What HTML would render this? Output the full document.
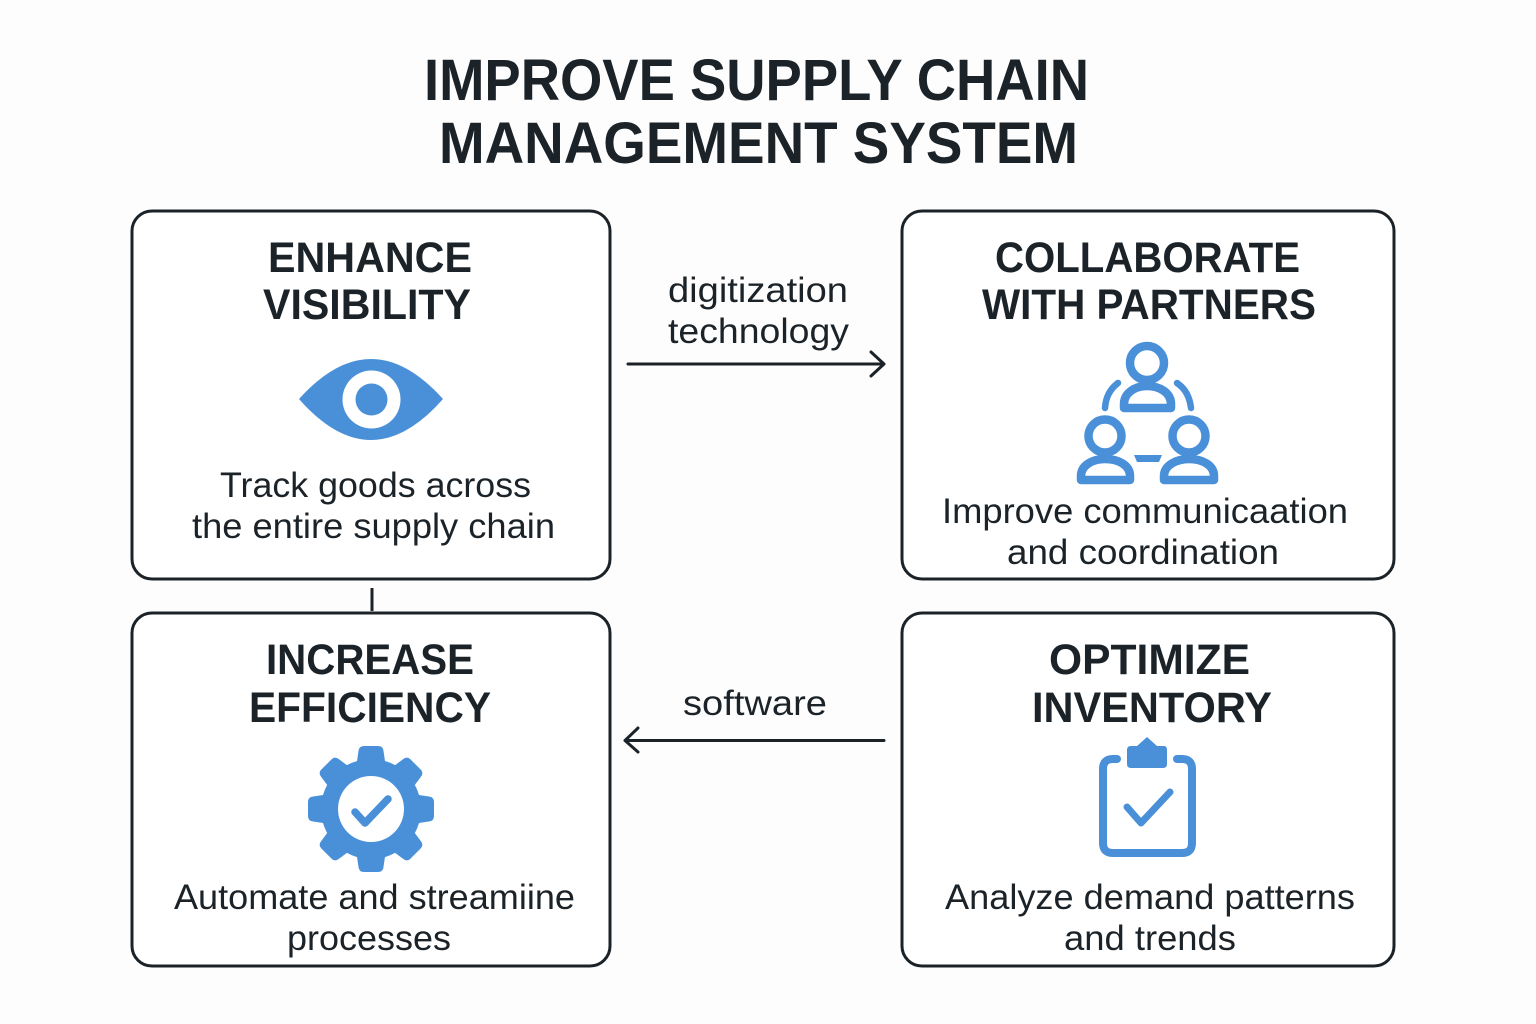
<!DOCTYPE html>
<html><head><meta charset="utf-8"><style>
html,body{margin:0;padding:0;background:#fdfdfd}
svg{display:block}
text{font-family:"Liberation Sans",sans-serif;fill:#1b2329}
.t{font-size:58px;font-weight:bold}
.h{font-size:43px;font-weight:bold}
.b{font-size:35px}
.box{fill:#fff;stroke:#1b2329;stroke-width:3}
.ln{fill:none;stroke:#1b2329;stroke-width:3;stroke-linecap:round;stroke-linejoin:round}
</style></head><body>
<svg width="1536" height="1024" viewBox="0 0 1536 1024" xmlns="http://www.w3.org/2000/svg">
<defs>
<path id="tooth" d="M356 768L358.500 751Q359 746 364 746H378Q383 746 383.500 751L386 768Z" fill="#4a90d9"/>
</defs>
<rect width="1536" height="1024" fill="#fdfdfd"/>
<text class="t" x="424" y="100" textLength="665" lengthAdjust="spacingAndGlyphs">IMPROVE SUPPLY CHAIN</text>
<text class="t" x="439" y="163" textLength="639" lengthAdjust="spacingAndGlyphs">MANAGEMENT SYSTEM</text>

<rect class="box" x="132" y="211" width="478" height="368" rx="20"/>
<rect class="box" x="902" y="211" width="492" height="368" rx="20"/>
<rect class="box" x="132" y="613" width="478" height="353" rx="20"/>
<rect class="box" x="902" y="613" width="492" height="353" rx="20"/>

<text class="h" x="268" y="272" textLength="204" lengthAdjust="spacingAndGlyphs">ENHANCE</text>
<text class="h" x="263" y="319" textLength="208" lengthAdjust="spacingAndGlyphs">VISIBILITY</text>
<text class="h" x="995" y="272" textLength="305" lengthAdjust="spacingAndGlyphs">COLLABORATE</text>
<text class="h" x="982" y="319" textLength="334" lengthAdjust="spacingAndGlyphs">WITH PARTNERS</text>
<text class="h" x="266" y="674" textLength="208" lengthAdjust="spacingAndGlyphs">INCREASE</text>
<text class="h" x="249" y="722" textLength="242" lengthAdjust="spacingAndGlyphs">EFFICIENCY</text>
<text class="h" x="1049" y="674" textLength="201" lengthAdjust="spacingAndGlyphs">OPTIMIZE</text>
<text class="h" x="1032" y="722" textLength="240" lengthAdjust="spacingAndGlyphs">INVENTORY</text>

<text class="b" x="220" y="497" textLength="311" lengthAdjust="spacingAndGlyphs">Track goods across</text>
<text class="b" x="192" y="538" textLength="363" lengthAdjust="spacingAndGlyphs">the entire supply chain</text>
<text class="b" x="942" y="523" textLength="406" lengthAdjust="spacingAndGlyphs">Improve communicaation</text>
<text class="b" x="1007" y="564" textLength="272" lengthAdjust="spacingAndGlyphs">and coordination</text>
<text class="b" x="174" y="909" textLength="401" lengthAdjust="spacingAndGlyphs">Automate and streamiine</text>
<text class="b" x="287" y="950" textLength="164" lengthAdjust="spacingAndGlyphs">processes</text>
<text class="b" x="945" y="909" textLength="410" lengthAdjust="spacingAndGlyphs">Analyze demand patterns</text>
<text class="b" x="1064" y="950" textLength="172" lengthAdjust="spacingAndGlyphs">and trends</text>
<text class="b" x="668" y="302" textLength="180" lengthAdjust="spacingAndGlyphs">digitization</text>
<text class="b" x="668" y="343" textLength="181" lengthAdjust="spacingAndGlyphs">technology</text>
<text class="b" x="683" y="715" textLength="144" lengthAdjust="spacingAndGlyphs">software</text>

<path class="ln" d="M628 364H884M871 352L884 364L871 376"/>
<path class="ln" d="M884 740.500H625M638 728L625 740.500L638 752"/>
<path class="ln" style="stroke-linecap:butt" d="M372 588V611"/>

<!-- eye -->
<path d="M299 399Q335 359 371 359Q407 359 443 399Q407 440 371 440Q335 440 299 399Z" fill="#4a90d9"/>
<circle cx="371.500" cy="399.500" r="29" fill="#fff"/>
<circle cx="371.500" cy="399.500" r="16" fill="#4a90d9"/>

<!-- people -->
<g fill="none" stroke="#4a90d9" stroke-width="8.500" stroke-linejoin="round">
<circle cx="1147" cy="363" r="17"/>
<path d="M1124 408V404C1124 393 1135 386 1147 386C1160 386 1171 393 1171 404V408Z"/>
<circle cx="1105" cy="436" r="16.500"/>
<path d="M1081 480V476C1081 465 1093 459 1105 459C1118 459 1130 465 1130 476V480Z"/>
<circle cx="1189" cy="436" r="16.500"/>
<path d="M1164 480V476C1164 465 1177 459 1189 459C1202 459 1214 465 1214 476V480Z"/>
<path d="M1118 383Q1106 392 1105 408M1177 383Q1189 391 1191 408" stroke-width="6.500" stroke-linecap="round"/>
</g>
<path d="M1134 455H1162L1159 462H1137Z" fill="#4a90d9"/>

<!-- gear -->
<circle cx="371" cy="809" r="50" fill="#4a90d9"/>
<use href="#tooth"/>
<use href="#tooth" transform="rotate(45 371 809)"/>
<use href="#tooth" transform="rotate(90 371 809)"/>
<use href="#tooth" transform="rotate(135 371 809)"/>
<use href="#tooth" transform="rotate(180 371 809)"/>
<use href="#tooth" transform="rotate(225 371 809)"/>
<use href="#tooth" transform="rotate(270 371 809)"/>
<use href="#tooth" transform="rotate(315 371 809)"/>
<circle cx="371" cy="809" r="33" fill="#fff"/>
<path d="M355 812L365 823L388 799" fill="none" stroke="#4a90d9" stroke-width="7.500" stroke-linecap="round" stroke-linejoin="round"/>

<!-- clipboard -->
<path d="M1117 759H1113Q1103 759 1103 769V843Q1103 853 1113 853H1182Q1192 853 1192 843V769Q1192 759 1182 759H1177" fill="none" stroke="#4a90d9" stroke-width="8" stroke-linecap="round"/>
<path d="M1131 746H1137L1147 737L1157 746H1164Q1167 746 1167 750V764Q1167 768 1163 768H1131Q1127 768 1127 764V750Q1127 746 1131 746Z" fill="#4a90d9"/>
<path d="M1127 807L1141 823L1170 792" fill="none" stroke="#4a90d9" stroke-width="7" stroke-linecap="round" stroke-linejoin="round"/>
</svg>
</body></html>
